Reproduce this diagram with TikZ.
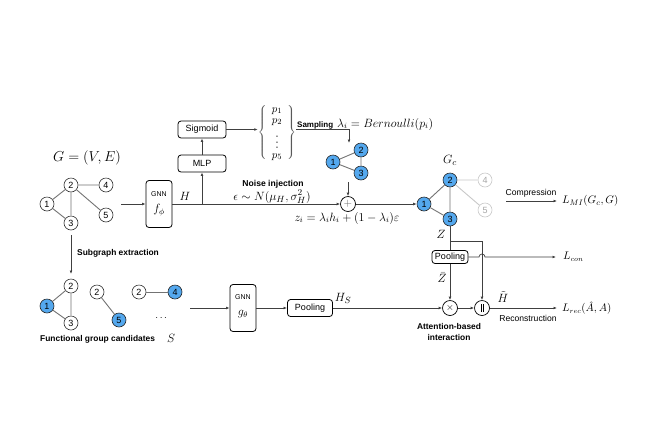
\documentclass[tikz,border=0pt]{standalone}
\usepackage{fontspec}
\usepackage{amsmath}
\usepackage{graphicx}
\newfontfamily\arialf{Liberation Sans}
\usetikzlibrary{arrows.meta}
\definecolor{nodeblue}{RGB}{84,168,238}
\definecolor{edgegray}{RGB}{115,115,115}
\definecolor{lightg}{RGB}{200,200,200}
\begin{document}
\begin{tikzpicture}[x=1pt,y=-1pt,
  >={Latex[length=3.5pt,width=2.8pt]},
  flow/.style={draw=black!75,line width=0.7pt},
  gn/.style={circle,draw=black!80,fill=white,line width=0.6pt,minimum size=14pt,inner sep=0pt,font=\arialf\fontsize{9}{9}\selectfont},
  bn/.style={gn,fill=nodeblue,draw=black!85},
  ln/.style={gn,draw=lightg,text=black!35},
  gedge/.style={draw=edgegray,line width=0.9pt},
  ledge/.style={draw=lightg,line width=0.9pt},
  rbox/.style={draw=black,rounded corners=3pt,line width=0.8pt,inner sep=0pt,font=\arialf\fontsize{9}{10}\selectfont},
  lbl/.style={font=\arialf\bfseries\fontsize{8.4}{11}\selectfont,inner sep=0pt},
  txt/.style={font=\arialf\fontsize{8.6}{10}\selectfont,inner sep=0pt},
  mth/.style={font=\fontsize{12}{14}\selectfont,inner sep=0pt},
  op/.style={circle,draw=black,line width=0.7pt,minimum size=15pt,inner sep=0pt},
  gnnlbl/.style={font=\arialf\fontsize{7}{8}\selectfont,inner sep=0pt},
]
\useasboundingbox (0,0) rectangle (660,445);
\fill[white] (0,0) rectangle (660,445);

% ---------- input graph G ----------
\node[mth,font=\fontsize{13.5}{15}\selectfont] (glab) at (87,158) {$G=(V,E)$};
\node[gn] (g1) at (47,204) {1};
\node[gn] (g2) at (71,185) {2};
\node[gn] (g3) at (71,223) {3};
\node[gn] (g4) at (106,185) {4};
\node[gn] (g5) at (106,215) {5};
\draw[gedge] (g1)--(g2) (g1)--(g3) (g2)--(g3) (g2)--(g4) (g2)--(g5);

% ---------- GNN f ----------
\node[rbox,minimum width=26pt,minimum height=47pt] (gnnf) at (159,204) {};
\node[gnnlbl] (gnnft) at (159,194) {GNN};
\node[mth,font=\fontsize{11.5}{12}\selectfont] (fphi) at (159,210) {$f_\phi$};
\coordinate (gin) at (121,204);
\draw[flow,->] (gin) -- (gnnf.west);
\node[mth,font=\fontsize{12.5}{14}\selectfont] (Hlab) at (185,196) {$H$};

% ---------- plus ----------
\node[op] (plus) at (348,204) {\textcolor{black!60}{\fontsize{11}{11}\selectfont$+$}};
\draw[flow,->] (gnnf.east) -- (plus.west);
\coordinate (br) at (202,204);

% ---------- MLP / Sigmoid ----------
\node[rbox,minimum width=48pt,minimum height=17pt] (mlp) at (202,163.5) {MLP};
\node[rbox,minimum width=48pt,minimum height=17pt] (sig) at (202,129.5) {Sigmoid};
\draw[flow,->] (br) -- (mlp.south);
\draw[flow,->] (mlp.north) -- (sig.south);

% ---------- probability vector ----------
\node[text=black!65,inner sep=0pt] (lbr) at (263,133) {$\left\{\rule[-26pt]{0pt}{52pt}\right.$};
\node[text=black!65,inner sep=0pt] (rbr) at (291,133) {$\left.\rule[-26pt]{0pt}{52pt}\right\}$};
\draw[flow,->] (sig.east) -- (sig.east -| lbr.west);
\node[mth,font=\fontsize{11}{12}\selectfont] (p1) at (277,111) {$p_1$};
\node[mth,font=\fontsize{11}{12}\selectfont] (p2) at (277,122) {$p_2$};
\node[mth,font=\fontsize{11}{12}\selectfont] (pd) at (277,138) {\scalebox{1}[1.45]{$\vdots$}};
\node[mth,font=\fontsize{11}{12}\selectfont] (p5) at (277,157) {$p_5$};

% ---------- sampling ----------
\coordinate (sc) at (349,129);
\coordinate (sd) at (349,143);
\draw[flow,->] (rbr.east |- sc) -- (sc) -- (sd);
\node[lbl,font=\arialf\bfseries\fontsize{8}{9}\selectfont,anchor=base west] (samp) at (297,127) {Sampling};
\node[mth,anchor=base west] (bern) at (337,127) {$\lambda_i=Bernoulli(p_i)$};

% ---------- sampled triangle ----------
\node[bn] (t1) at (333,162) {1};
\node[bn] (t2) at (361,150) {2};
\node[bn] (t3) at (361,173) {3};
\draw[gedge] (t1)--(t2) (t1)--(t3) (t2)--(t3);
\coordinate (tb) at (348,182);
\draw[flow,->] (tb) -- (plus.north);

% ---------- noise ----------
\node[lbl,font=\arialf\bfseries\fontsize{8.6}{11}\selectfont] (noise) at (273,184) {Noise injection};
\node[mth,font=\fontsize{12.5}{14}\selectfont] (eps) at (272,197) {$\epsilon\sim N(\mu_H,\sigma_H^2)$};
\node[mth,font=\fontsize{11.8}{13}\selectfont] (zf) at (347,218) {$z_i=\lambda_i h_i+(1-\lambda_i)\varepsilon$};

% ---------- G_c ----------
\node[mth,font=\fontsize{12.5}{14}\selectfont] (gc) at (450,160) {$G_c$};
\node[bn] (c1) at (424,204) {1};
\node[bn] (c2) at (450,180) {2};
\node[bn] (c3) at (450,219) {3};
\node[ln] (c4) at (485,180) {4};
\node[ln] (c5) at (485,210) {5};
\draw[ledge] (c2)--(c4) (c2)--(c5);
\draw[gedge] (c1)--(c2) (c1)--(c3) (c2)--(c3);
\draw[flow,->] (plus.east) -- (c1.west);

% ---------- compression ----------
\coordinate (cs) at (506,201);
\coordinate (ce) at (557,201);
\draw[flow,->] (cs) -- (ce);
\node[txt] (comp) at (531,193) {Compression};
\node[mth,font=\fontsize{11}{12}\selectfont,anchor=west] (lmi) at (562,201) {$L_{MI}(G_c,G)$};

% ---------- Z branch ----------
\node[mth] (zl) at (441,234) {$Z$};
\node[rbox,minimum width=36pt,minimum height=13pt] (pool2) at (450,257) {Pooling};
\node[op] (mul) at (450,308) {\fontsize{10}{10}\selectfont$\times$};
\node[op] (cat) at (482,308) {\rule{0.6pt}{8pt}\hspace{1.6pt}\rule{0.6pt}{8pt}};
\coordinate (zb) at (450,241);
\coordinate (zr) at (482,241);
\draw[flow] (c3.south) -- (pool2.north);
\draw[flow,->] (zb) -- (zr) -- (cat.north);
\coordinate (hop) at (479,257);
\coordinate (lc) at (556,257);
\draw[flow,->] (pool2.east) -- (hop) arc[start angle=180,end angle=360,radius=3] -- (lc);
\node[mth,font=\fontsize{10.5}{12}\selectfont,anchor=west] (lcon) at (563,257) {$L_{con}$};
\node[mth] (zbar) at (442,278) {$\bar Z$};
\draw[flow,->] (pool2.south) -- (mul.north);
\draw[flow,->] (mul.east) -- (cat.west);
\node[mth] (htil) at (503,297) {$\tilde H$};
\coordinate (re) at (557,308);
\draw[flow,->] (cat.east) -- (re);
\node[txt] (recon) at (528,318) {Reconstruction};
\node[mth,font=\fontsize{10.5}{12}\selectfont,anchor=west] (lrec) at (562,308) {$L_{rec}(\hat A,A)$};
\node[lbl,align=center] (att) at (449,331.5) {Attention-based\\interaction};

% ---------- subgraph extraction ----------
\coordinate (sx1) at (71,235);
\coordinate (sx2) at (71,274);
\draw[flow,->] (sx1) -- (sx2);
\node[lbl,anchor=west] (subx) at (77,253) {Subgraph extraction};

\node[gn] (s12) at (71,286) {2};
\node[bn] (s11) at (47,306) {1};
\node[gn] (s13) at (71,323) {3};
\draw[gedge] (s11)--(s12) (s11)--(s13) (s12)--(s13);
\node[gn] (s22) at (97,292) {2};
\node[bn] (s25) at (119,320) {5};
\draw[gedge] (s22)--(s25);
\node[gn] (s32) at (139,292) {2};
\node[bn] (s34) at (175,292) {4};
\draw[gedge] (s32)--(s34);
\node[inner sep=0pt] (dots) at (162,318) {$\cdots$};
\node[lbl,anchor=west] (fgc) at (40,339) {Functional group candidates};
\node[mth,font=\fontsize{12.5}{14}\selectfont] (S) at (171,338) {$S$};

% ---------- GNN g ----------
\node[rbox,minimum width=26pt,minimum height=47pt] (gnng) at (243,308) {};
\node[gnnlbl] (gnngt) at (243,297) {GNN};
\node[mth,font=\fontsize{11.5}{12}\selectfont] (gth) at (243,314) {$g_\theta$};
\coordinate (sin) at (190,308);
\draw[flow,->] (sin) -- (gnng.west);
\node[rbox,minimum width=45pt,minimum height=17pt] (pool1) at (310,308) {Pooling};
\draw[flow,->] (gnng.east) -- (pool1.west);
\draw[flow,->] (pool1.east) -- (mul.west);
\node[mth,font=\fontsize{12.5}{14}\selectfont] (hs) at (343,298) {$H_S$};
\end{tikzpicture}
\end{document}
